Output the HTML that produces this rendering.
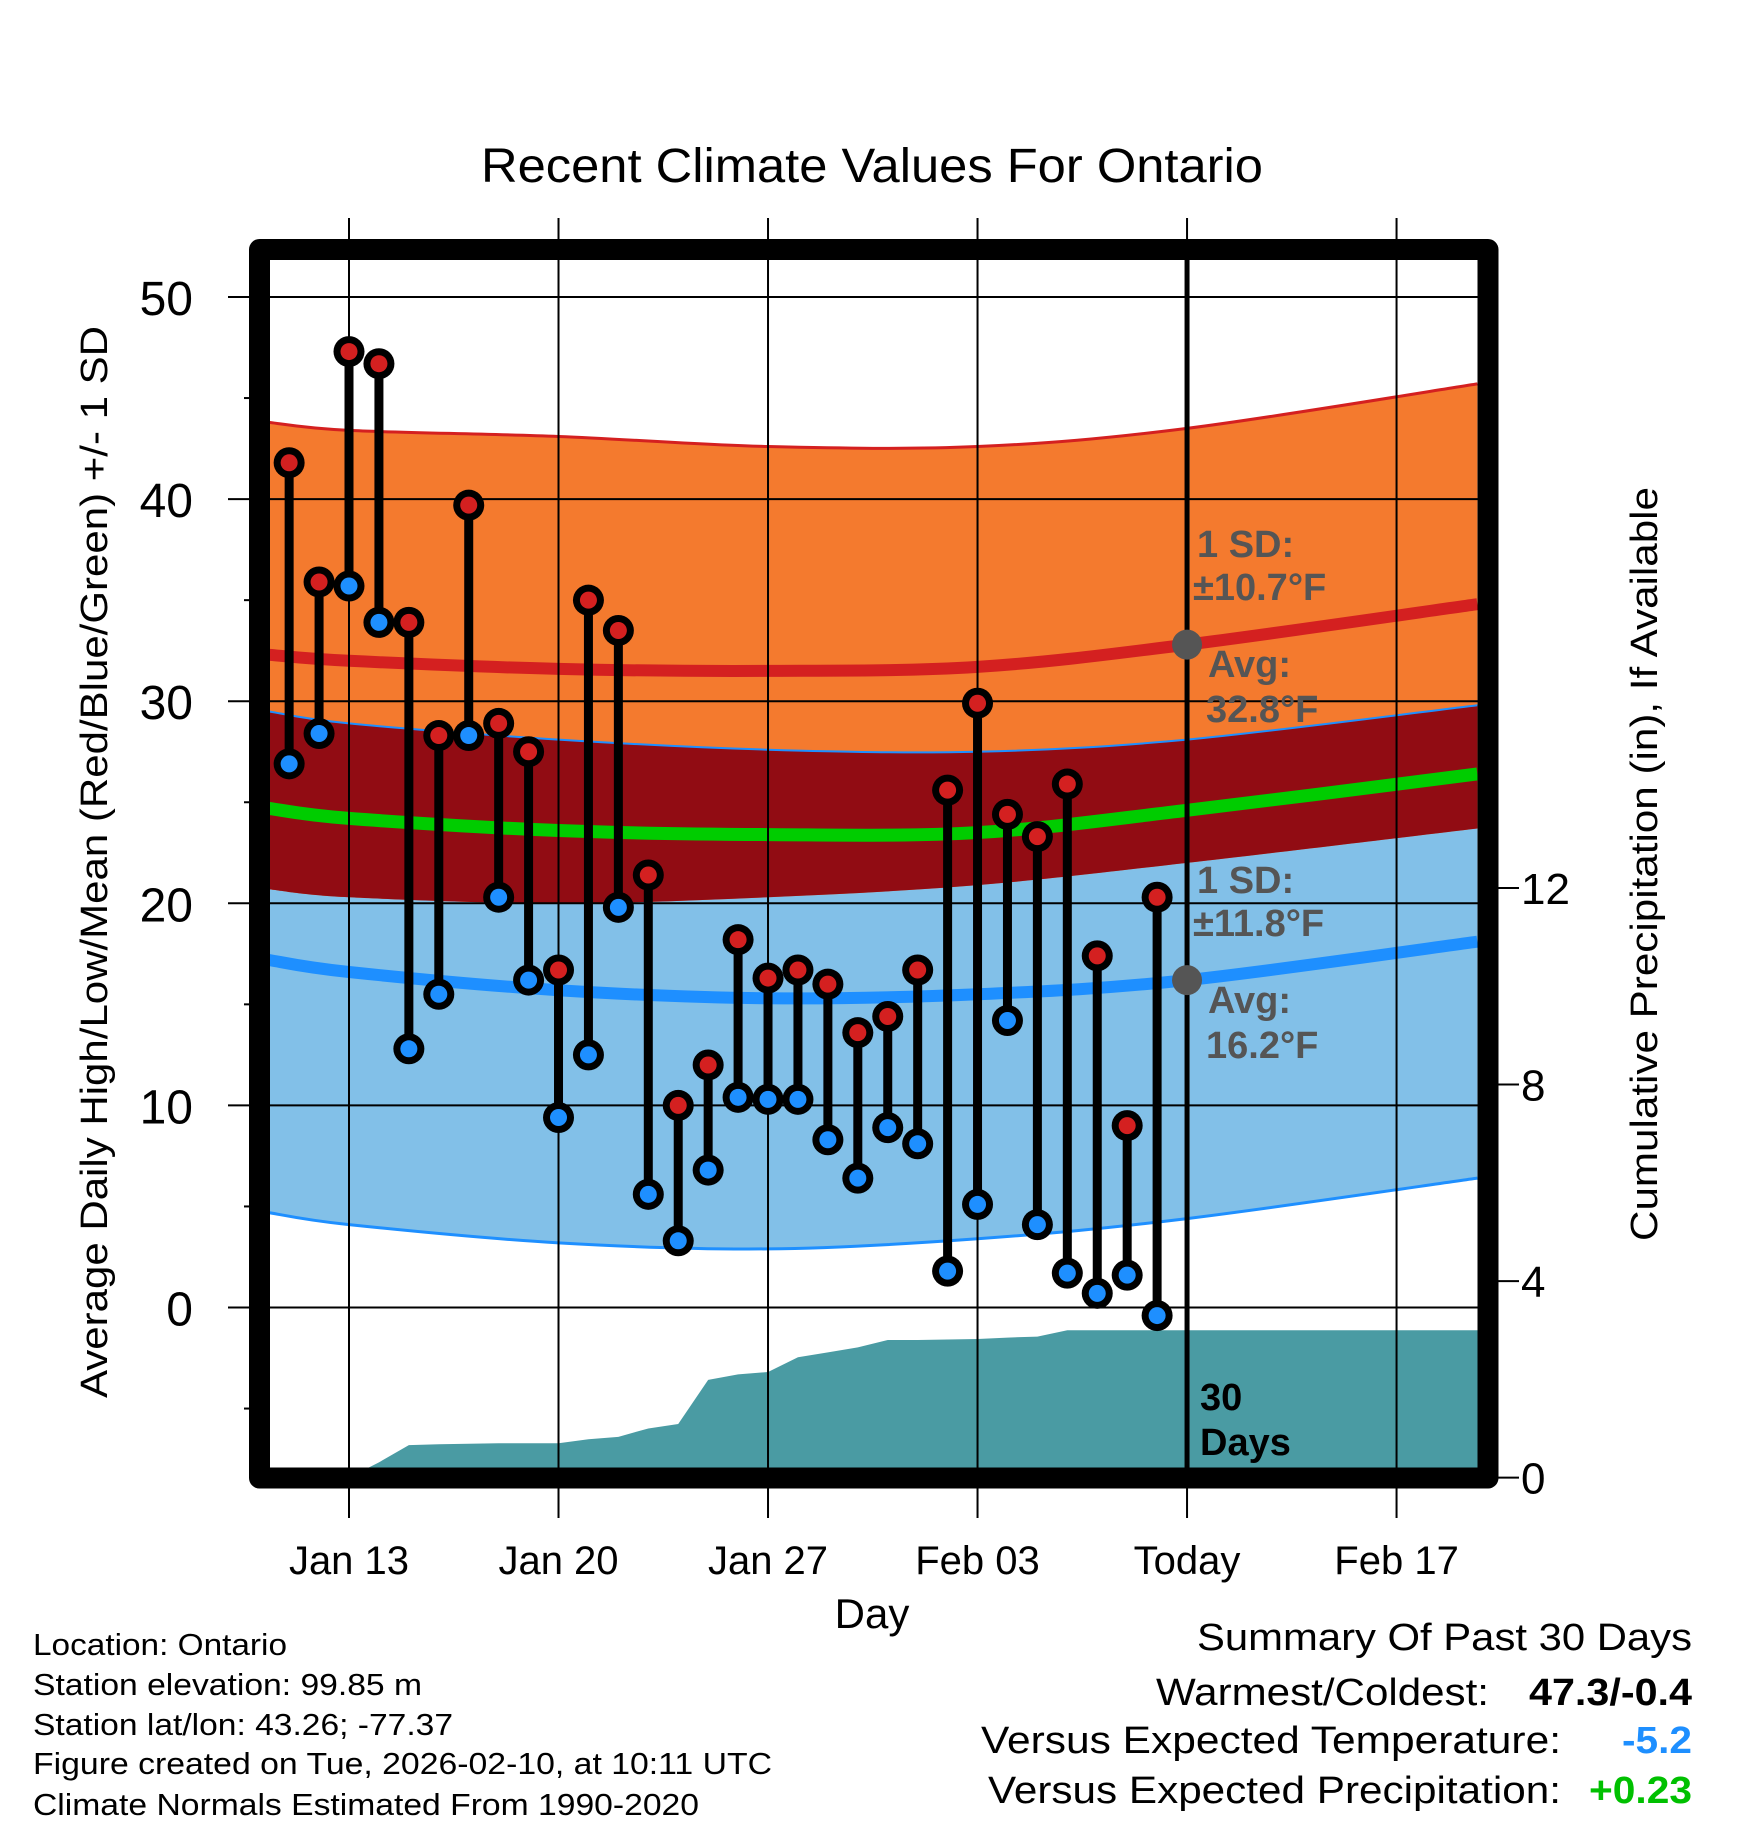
<!DOCTYPE html>
<html><head><meta charset="utf-8">
<style>
html,body{margin:0;padding:0;background:#fff;}
svg{display:block;font-family:"Liberation Sans",Arial,sans-serif;}
</style></head>
<body>
<svg id="chart" width="1748" height="1828" viewBox="0 0 1748 1828" xmlns="http://www.w3.org/2000/svg">
<defs><clipPath id="plotclip"><rect x="270" y="260" width="1208" height="1208"/></clipPath></defs>
<g id="plot" clip-path="url(#plotclip)"></g>
<g id="over"></g>
<text x="481" y="182" font-size="48" textLength="782" lengthAdjust="spacingAndGlyphs">Recent Climate Values For Ontario</text>
<text transform="translate(107,862) rotate(-90)" text-anchor="middle" font-size="38" textLength="1072" lengthAdjust="spacingAndGlyphs">Average Daily High/Low/Mean (Red/Blue/Green) +/- 1 SD</text>
<text transform="translate(1657,864) rotate(-90)" text-anchor="middle" font-size="38" textLength="754" lengthAdjust="spacingAndGlyphs">Cumulative Precipitation (in), If Available</text>
<text x="872" y="1628" text-anchor="middle" font-size="42">Day</text>
<g font-size="31">
<text x="33" y="1655" textLength="254" lengthAdjust="spacingAndGlyphs">Location: Ontario</text>
<text x="33" y="1695" textLength="389" lengthAdjust="spacingAndGlyphs">Station elevation: 99.85 m</text>
<text x="33" y="1735" textLength="420" lengthAdjust="spacingAndGlyphs">Station lat/lon: 43.26; -77.37</text>
<text x="33" y="1774" textLength="739" lengthAdjust="spacingAndGlyphs">Figure created on Tue, 2026-02-10, at 10:11 UTC</text>
<text x="33" y="1815" textLength="666" lengthAdjust="spacingAndGlyphs">Climate Normals Estimated From 1990-2020</text>
</g>
<g font-size="38">
<text x="1197" y="1650" textLength="495" lengthAdjust="spacingAndGlyphs">Summary Of Past 30 Days</text>
<text x="1156" y="1705" textLength="333" lengthAdjust="spacingAndGlyphs">Warmest/Coldest:</text>
<text x="1529" y="1705" font-weight="bold" textLength="163" lengthAdjust="spacingAndGlyphs">47.3/-0.4</text>
<text x="981" y="1753" textLength="580" lengthAdjust="spacingAndGlyphs">Versus Expected Temperature:</text>
<text x="1622" y="1753" font-weight="bold" fill="#1e8fff" textLength="70" lengthAdjust="spacingAndGlyphs">-5.2</text>
<text x="988" y="1803" textLength="573" lengthAdjust="spacingAndGlyphs">Versus Expected Precipitation:</text>
<text x="1589" y="1803" font-weight="bold" fill="#00c000" textLength="103" lengthAdjust="spacingAndGlyphs">+0.23</text>
</g>
</svg>
<script>
// Daily observations, Jan 11 .. Feb 09 (day offset from Jan 13)
const obsDays = [-2,-1,0,1,2,3,4,5,6,7,8,9,10,11,12,13,14,15,16,17,18,19,20,21,22,23,24,25,26,27];
const highs = [41.8,35.9,47.3,46.7,33.9,28.3,39.7,28.9,27.5,16.7,35.0,33.5,21.4,10.0,12.0,18.2,16.3,16.7,16.0,13.6,14.4,16.7,25.6,29.9,24.4,23.3,25.9,17.4,9.0,20.3];
const lows = [26.9,28.4,35.7,33.9,12.8,15.5,28.3,20.3,16.2,9.4,12.5,19.8,5.6,3.3,6.8,10.4,10.3,10.3,8.3,6.4,8.9,8.1,1.8,5.1,14.2,4.1,1.7,0.7,1.6,-0.4];
const precip = [0,0,0,0.31,0.66,0.68,0.69,0.70,0.70,0.70,0.78,0.83,1.0,1.09,1.99,2.1,2.15,2.45,2.55,2.65,2.8,2.8,2.81,2.82,2.85,2.87,3.0,3.0,3.0,3.0];
// Climatology sampled at day offsets
const normDays = [-2.7,0,7,14,21,28,37.7];
const hiUpper = [43.8,43.4,43.1,42.6,42.6,43.5,45.7];
const hiAvg = [32.3,32.0,31.6,31.5,31.7,32.8,34.8];
const loUpper = [29.5,28.9,28.1,27.6,27.5,28.1,29.8];
const meanAvg = [24.7,24.2,23.6,23.4,23.5,24.6,26.4];
const hiLower = [20.7,20.3,20.0,20.3,20.9,22.0,23.7];
const loAvg = [17.2,16.6,15.7,15.3,15.5,16.2,18.1];
const loLower = [4.7,4.1,3.2,2.9,3.4,4.4,6.4];
const xTickDays = [0,7,14,21,28,35];
const xTickLabels = ["Jan 13","Jan 20","Jan 27","Feb 03","Today","Feb 17"];
const yTicks = [0,10,20,30,40,50];
const yMinor = [-5,5,15,25,35,45];
const y2Ticks = [0,4,8,12];
const todayDay = 28;
const precipEndDay = 38;

const NS="http://www.w3.org/2000/svg";
const X=d=>349+29.93*d;
const Y=v=>1307.5-20.21*v;
const Y2=v=>1477.6-49.13*v;
const plot=document.getElementById('plot');
const over=document.getElementById('over');
function mk(tag,attrs,parent){const e=document.createElementNS(NS,tag);for(const k in attrs)e.setAttribute(k,attrs[k]);parent.appendChild(e);return e;}
function line(days,vals){return days.map((d,i)=>[X(d),Y(vals[i])]);}
function smooth(pts){
  let s=`M${pts[0][0]},${pts[0][1]}`;
  for(let i=0;i<pts.length-1;i++){const p0=pts[Math.max(0,i-1)],p1=pts[i],p2=pts[i+1],p3=pts[Math.min(pts.length-1,i+2)];
    s+=` C${p1[0]+(p2[0]-p0[0])/6},${p1[1]+(p2[1]-p0[1])/6} ${p2[0]-(p3[0]-p1[0])/6},${p2[1]-(p3[1]-p1[1])/6} ${p2[0]},${p2[1]}`;}
  return s;}
function band(up,lo){const a=smooth(line(normDays,up));const b=smooth(line(normDays,lo).reverse()).replace('M','L');return a+' '+b+' Z';}

let e;
e=mk('path',{d:band(loUpper,loLower),fill:'#82c0e8'},plot);


e=mk('path',{d:band(hiUpper,hiLower),fill:'#f47a2e'},plot);


e=mk('path',{d:band(loUpper,hiLower),fill:'#910c13'},plot);


e=mk('path',{d:smooth(line(normDays,hiUpper)),fill:'none',stroke:'#d42020','stroke-width':3},plot);


e=mk('path',{d:smooth(line(normDays,loUpper)),fill:'none',stroke:'#1e8fff','stroke-width':2},plot);


e=mk('path',{d:smooth(line(normDays,loLower)),fill:'none',stroke:'#1e8fff','stroke-width':3},plot);


e=mk('path',{d:smooth(line(normDays,hiAvg)),fill:'none',stroke:'#d42020','stroke-width':12},plot);


e=mk('path',{d:smooth(line(normDays,meanAvg)),fill:'none',stroke:'#00cc00','stroke-width':13},plot);


e=mk('path',{d:smooth(line(normDays,loAvg)),fill:'none',stroke:'#1e8fff','stroke-width':12},plot);



let pd=`M${X(obsDays[0])},${Y2(0)}`;
obsDays.forEach((d,i)=>{pd+=` L${X(d)},${Y2(precip[i])}`;});
pd+=` L${X(precipEndDay)},${Y2(precip[precip.length-1])} L${X(precipEndDay)},1500 L${X(obsDays[0])},1500 Z`;
e=mk('path',{d:pd,fill:'#4a9ba3'},plot);



yTicks.forEach(v=>{const g=mk('line',{x1:228,x2:1478,y1:Y(v),y2:Y(v),stroke:'#000','stroke-width':2},over);

});
yMinor.forEach(v=>{const g=mk('line',{x1:244,x2:252,y1:Y(v),y2:Y(v),stroke:'#000','stroke-width':2},over);

});
xTickDays.forEach((d,i)=>{const g=mk('line',{x1:X(d),x2:X(d),y1:218,y2:1518,stroke:'#000','stroke-width':2},over);


const t=mk('text',{x:X(d),y:1574,'text-anchor':'middle','font-size':40},over);t.textContent=xTickLabels[i];

});
yTicks.forEach(v=>{const t=mk('text',{x:193,y:Y(v)+18,'text-anchor':'end','font-size':48},over);t.textContent=v;

});
y2Ticks.forEach(v=>{const g=mk('line',{x1:1490,x2:1519,y1:Y2(v),y2:Y2(v),stroke:'#000','stroke-width':2},over);


const t=mk('text',{x:1521,y:Y2(v)+16,'font-size':44},over);t.textContent=v;

});

e=mk('line',{x1:X(todayDay),x2:X(todayDay),y1:260,y2:1478,stroke:'#000','stroke-width':5},over);



obsDays.forEach((d,i)=>{
  const s=mk('line',{x1:X(d),x2:X(d),y1:Y(highs[i]),y2:Y(lows[i]),stroke:'#000','stroke-width':9},over);
  
  
});
obsDays.forEach((d,i)=>{
  [[highs[i],'#d42020','high-dot'],[lows[i],'#1e8fff','low-dot']].forEach(([v,c,n])=>{
    const o=mk('circle',{cx:X(d),cy:Y(v),r:15.5,fill:'#000'},over);
    
    
    const ci=mk('circle',{cx:X(d),cy:Y(v),r:8.5,fill:c},over);
    
    
  });
});
const hiToday=32.8, loToday=16.2;
e=mk('circle',{cx:X(todayDay),cy:Y(hiToday),r:15,fill:'#555'},over);


e=mk('circle',{cx:X(todayDay),cy:Y(loToday),r:15,fill:'#555'},over);



e=mk('rect',{x:259.5,y:249.5,width:1228.5,height:1228.5,fill:'none',stroke:'#000','stroke-width':21,'stroke-linejoin':'round'},over);



function ann(x,y,txt,fill,name){const t=mk('text',{x:x,y:y,'font-size':38,'font-weight':'bold',fill:fill},over);t.textContent=txt;

return t;}
ann(1197,557,'1 SD:','#555','high-sd-label');
ann(1193,600,'±10.7°F','#555','high-sd-value');
ann(1208,677,'Avg:','#555','high-avg-label');
ann(1206,722,'32.8°F','#555','high-avg-value');
ann(1197,893,'1 SD:','#555','low-sd-label');
ann(1193,936,'±11.8°F','#555','low-sd-value');
ann(1208,1013,'Avg:','#555','low-avg-label');
ann(1206,1058,'16.2°F','#555','low-avg-value');
ann(1200,1410,'30','#000','precip-days-number');
ann(1200,1455,'Days','#000','precip-days-label');
</script>
</body></html>
